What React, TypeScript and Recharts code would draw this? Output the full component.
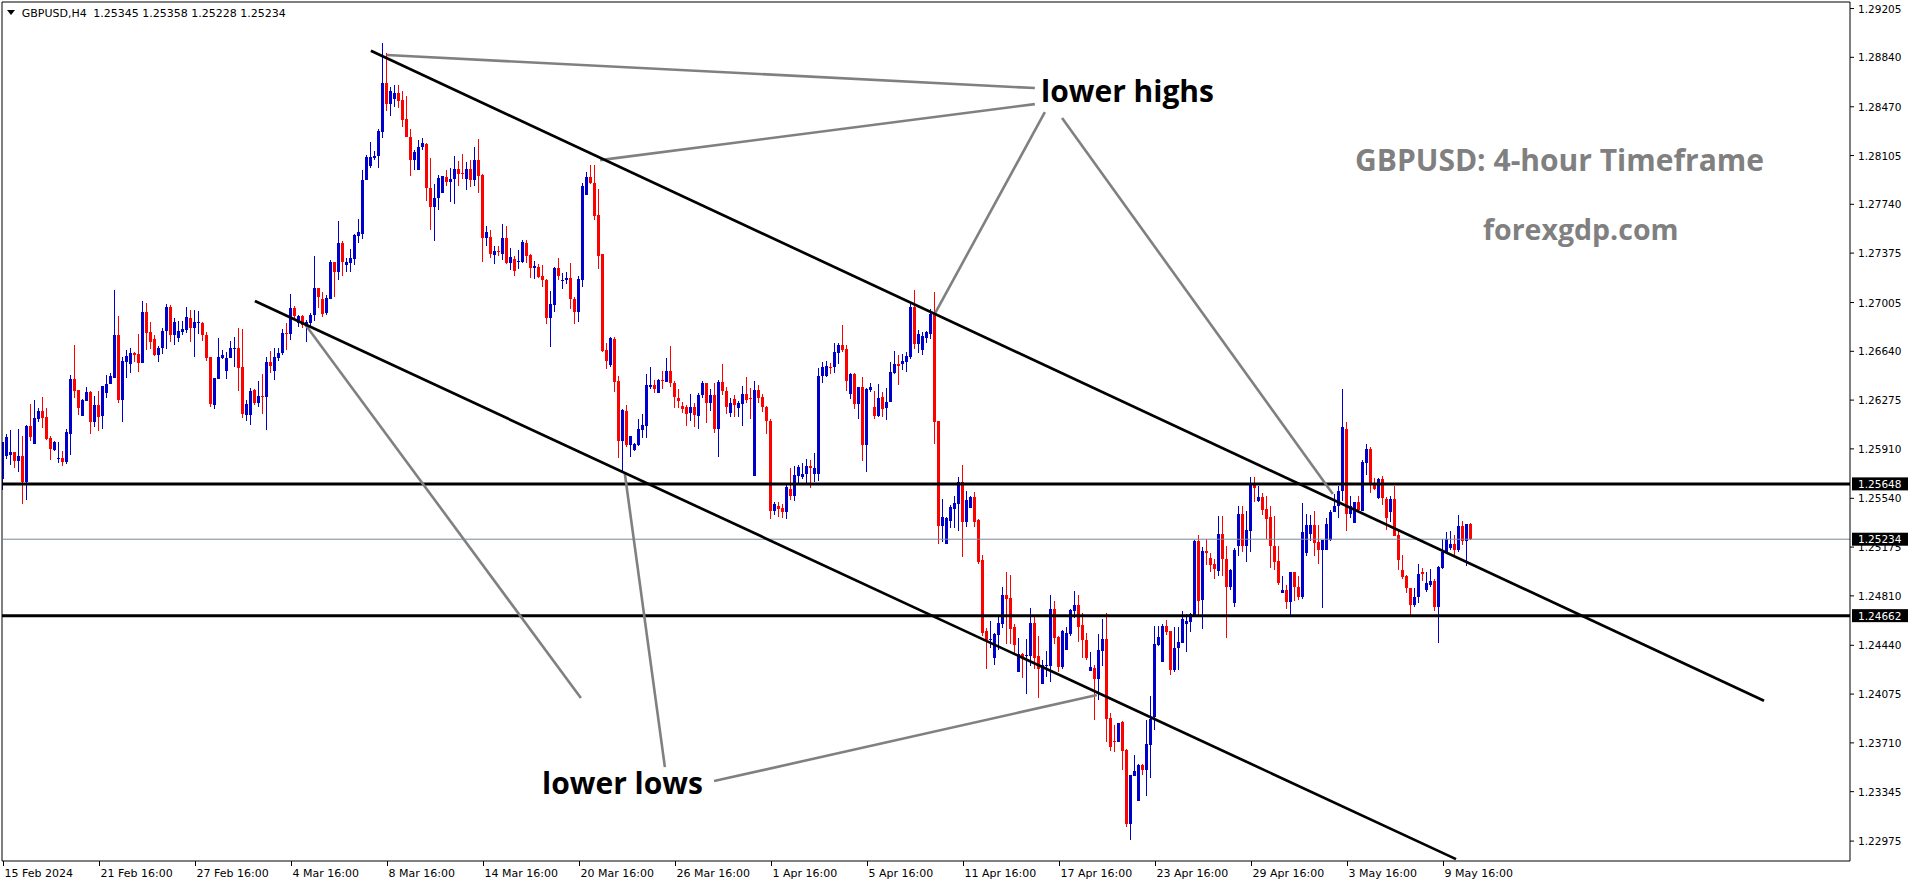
import React from 'react';
import { ComposedChart, Bar, XAxis, YAxis, ReferenceLine } from 'recharts';

// GBPUSD H4 candles, prices in points (1/100000)
const opens = [
  125688,125857,125862,125885,125817,125857,125662,126082,125947,126135,126192,126147,
  125990,125900,125835,125840,125810,126022,126432,126350,126157,126270,126335,126112,
  126237,126157,126325,126395,126442,126762,126277,126560,126547,126625,126620,126555,
  126935,126785,126730,126615,126665,126792,126972,126762,126742,126787,126802,126890,
  126817,126855,126852,126765,126597,126240,126435,126592,126495,126587,126660,126665,
  126522,126165,126160,126350,126250,126307,126300,126562,126495,126590,126625,126780,
  126770,126967,126850,126905,126825,126850,126912,127117,127030,126925,127030,127312,
  127237,127450,127287,127300,127332,127502,127520,127920,128025,128085,128100,128280,
  128647,128487,128525,128572,128520,128375,128245,128070,128000,128167,128195,127865,
  127717,127785,127822,127947,127905,127930,128007,127977,127927,128007,127920,128075,
  127957,127485,127497,127362,127392,127367,127490,127300,127330,127312,127312,127452,
  127360,127262,127270,127205,127175,126892,126987,127260,127170,127170,127187,127032,
  126935,127175,127807,127947,127900,127662,127365,126647,126537,126732,126420,125970,
  126192,125937,125900,125940,126050,126082,126370,126385,126330,126427,126407,126495,
  126400,126292,126230,126220,126175,126220,126155,126312,126405,126255,126312,126060,
  126407,126345,126175,126280,126218,126245,126320,126290,125707,126350,126300,126225,
  126120,125445,125480,125467,125435,125612,125555,125707,125700,125720,125785,125722,
  125722,126455,126455,126520,126520,126630,126687,126655,126322,126470,126245,126375,
  125937,126347,126222,126155,126297,126217,126260,126480,126545,126542,126562,126600,
  126975,126695,126650,126737,126770,126917,126120,125330,125200,125367,125462,125500,
  125665,125362,125467,125547,125375,125080,124550,124480,124347,124517,124600,124817,
  124795,124577,124242,124372,124360,124360,124605,124360,124152,124285,124285,124710,
  124505,124280,124405,124527,124700,124742,124592,124480,124247,124267,124187,124400,
  124487,123897,123727,123717,123865,123655,123100,123460,123272,123542,123505,123692,
  123905,124442,124317,124585,124545,124255,124417,124460,124600,124617,124662,125217,
  124780,125147,125090,125050,124997,125275,125085,124875,124755,125180,125425,125180,
  125292,125647,125522,125552,125460,125397,125185,125072,124835,124855,124767,124985,
  124875,124805,125130,125272,125342,125210,125155,125155,125230,125437,125480,125592,
  126060,125425,125355,125510,125442,125805,125912,125650,125542,125687,125537,125437,
  125537,125267,125005,124962,124867,124742,124805,124985,124855,124892,124925,124730,
  125017,125135,125167,125200,125155,125330,125217,125345,
];

const highs = [
  125962,126025,126050,125885,126057,126007,126087,126245,126275,126215,126297,126217,
  126005,125967,125965,125892,126062,126465,126687,126350,126285,126375,126345,126305,
  126342,126382,126460,126475,127100,126907,126600,126650,126667,126635,126770,127017,
  127002,126862,126762,126682,126817,126997,126987,126887,126867,126870,126972,126950,
  126947,126942,126862,126785,126597,126440,126740,126650,126637,126715,126747,126817,
  126807,126275,126362,126355,126420,126470,126600,126645,126662,126662,126805,126850,
  127067,126980,126912,126912,126875,126930,127355,127117,127082,127060,127320,127312,
  127617,127462,127342,127405,127520,127632,127995,128110,128205,128137,128305,128945,
  128870,128620,128630,128632,128587,128547,128307,128150,128225,128237,128200,128090,
  127895,127960,127950,128000,128012,128100,128067,128120,128057,128075,128172,128232,
  127970,127575,127550,127430,127425,127595,127580,127412,127350,127400,127475,127470,
  127365,127317,127295,127287,127180,127095,127270,127335,127225,127237,127300,127050,
  127200,127900,127982,128032,128035,127857,127370,126705,126750,126750,126455,126210,
  126237,126005,125955,126132,126170,126470,126522,126425,126435,126492,126587,126680,
  126420,126360,126262,126237,126317,126250,126325,126420,126405,126355,126400,126425,
  126547,126375,126287,126310,126267,126380,126445,126362,126417,126387,126320,126230,
  126132,125512,125512,125500,125637,125765,125780,125792,125805,125832,125825,125882,
  126512,126562,126570,126555,126705,126700,126837,126687,126475,126475,126375,126450,
  126362,126400,126342,126395,126337,126362,126562,126642,126612,126617,126635,127000,
  127100,126800,126787,126795,126955,127085,126120,125537,125400,125492,125555,125700,
  125787,125592,125555,125587,125387,125117,124567,124622,124530,124655,124880,124992,
  124965,124597,124492,124385,124485,124720,124670,124510,124330,124397,124817,124772,
  124510,124555,124580,124712,124850,124817,124680,124530,124387,124292,124522,124637,
  124680,123930,123842,123862,123875,123667,123467,123617,123555,123555,123880,124060,
  124585,124585,124597,124630,124547,124580,124580,124700,124675,124680,125230,125267,
  125175,125235,125130,125085,125410,125405,125180,125010,125167,125485,125485,125442,
  125697,125697,125630,125580,125555,125480,125405,125180,124960,124892,124985,124985,
  124955,125505,125422,125417,125442,125342,125230,125392,125455,125572,125630,126355,
  126110,125555,125510,125555,125825,125950,125922,125692,125692,125710,125550,125560,
  125635,125297,125117,124967,124867,124867,125050,125022,124992,125010,124937,125030,
  125235,125285,125292,125267,125417,125367,125350,125358,
];

const lows = [
  125605,125832,125787,125767,125737,125500,125525,125970,125947,126112,126067,125980,
  125825,125892,125807,125782,125797,125865,126292,126165,126157,126267,126022,126075,
  126045,126055,126287,126392,126442,126255,126112,126442,126480,126562,126487,126555,
  126650,126657,126607,126562,126622,126657,126712,126687,126712,126762,126777,126712,
  126600,126770,126717,126567,126227,126210,126432,126580,126432,126587,126522,126345,
  126142,126120,126087,126237,126225,126170,126050,126475,126425,126567,126612,126650,
  126725,126875,126825,126812,126712,126825,126867,126962,126900,126912,127030,127050,
  127170,127200,127230,127230,127287,127450,127482,127920,128012,128070,128012,128237,
  128437,128400,128465,128460,128317,128242,127950,128000,128000,128150,127762,127545,
  127462,127700,127822,127875,127755,127745,127880,127930,127845,127870,127875,127825,
  127305,127425,127342,127295,127350,127325,127295,127250,127200,127257,127300,127300,
  127187,127180,127187,127125,126842,126675,126937,127175,127105,127142,126960,126842,
  126862,127125,127807,127895,127620,127255,126637,126505,126525,126337,125845,125737,
  125925,125850,125895,125935,125995,125995,126357,126325,126330,126357,126407,126375,
  126217,126217,126175,126080,126120,126070,126055,126287,126105,126192,126030,125850,
  126312,126170,126150,126150,126150,126080,126255,126132,125707,126255,126187,126020,
  125382,125412,125400,125395,125385,125525,125520,125650,125687,125655,125617,125662,
  125670,126400,126445,126467,126475,126545,126637,126345,126280,126205,126132,125817,
  125737,126337,126137,126150,126150,126125,126260,126467,126387,126500,126487,126580,
  126655,126625,126612,126705,126730,125950,125195,125212,125195,125317,125317,125292,
  125100,125325,125467,125325,125050,124510,124260,124422,124292,124405,124572,124450,
  124450,124372,124237,124197,124075,124287,124262,124047,124152,124205,124165,124450,
  124237,124260,124405,124510,124642,124467,124342,124330,124247,123880,124030,124285,
  123717,123650,123642,123717,123505,123080,122980,123460,123272,123467,123310,123447,
  123805,124437,124312,124517,124217,124242,124255,124455,124392,124542,124660,124655,
  124562,125042,124992,124937,124960,124960,124492,124855,124730,125105,125142,125067,
  125142,125510,125510,125417,125237,125022,125005,124892,124830,124712,124667,124775,
  124780,124785,125105,125217,125112,125050,124717,125155,125217,125437,125392,125517,
  125292,125392,125355,125430,125442,125717,125580,125605,125535,125487,125305,125360,
  125255,125005,124935,124835,124667,124730,124755,124925,124842,124875,124700,124455,
  125010,125130,125155,125117,125142,125192,125030,125228,
];

const closes = [
  125962,126000,125885,125817,125857,125662,126082,126000,126140,126195,126140,125985,
  125910,125962,125840,125812,126035,126432,126345,126217,126275,126335,126112,126237,
  126150,126380,126395,126455,126762,126277,126567,126605,126630,126610,126555,126935,
  126780,126712,126615,126665,126792,126972,126762,126862,126792,126807,126897,126817,
  126860,126860,126765,126592,126245,126440,126597,126612,126592,126665,126665,126517,
  126172,126245,126345,126250,126307,126300,126562,126530,126600,126630,126780,126770,
  126967,126905,126905,126837,126857,126912,127117,127050,126917,127042,127312,127237,
  127450,127312,127305,127337,127507,127530,127925,128092,128097,128105,128287,128647,
  128487,128587,128572,128512,128370,128245,128070,128135,128172,128200,127860,127717,
  127787,127940,127950,127905,127932,128007,127970,127972,128007,127920,128075,127950,
  127485,127535,127367,127392,127385,127490,127300,127347,127240,127317,127460,127355,
  127260,127282,127195,127177,126892,126995,127260,127207,127175,127190,127032,126935,
  127182,127875,127947,127900,127650,127350,126642,126570,126737,126412,125970,126200,
  125937,126005,125945,126057,126087,126387,126387,126355,126427,126415,126495,126400,
  126295,126270,126210,126170,126220,126167,126312,126405,126255,126312,126060,126407,
  126345,126225,126255,126235,126257,126320,126275,126282,126350,126292,126220,126120,
  125445,125500,125460,125435,125622,125555,125712,125775,125725,125785,125767,125770,
  126455,126525,126530,126517,126635,126687,126650,126417,126470,126245,126375,125937,
  126355,126372,126155,126290,126205,126260,126485,126545,126532,126570,126605,126975,
  126695,126770,126757,126782,126917,126112,125330,125400,125390,125475,125505,125665,
  125362,125525,125547,125362,125062,124535,124480,124485,124525,124605,124817,124787,
  124562,124442,124372,124355,124367,124605,124347,124260,124292,124290,124712,124492,
  124280,124547,124532,124705,124742,124580,124480,124347,124277,124187,124405,124487,
  123887,123680,123717,123857,123650,123100,123467,123497,123545,123510,123700,123887,
  124450,124500,124585,124542,124255,124417,124465,124637,124625,124675,125217,124775,
  125147,125130,125042,125010,125275,125085,124875,125005,125155,125425,125180,125305,
  125647,125617,125552,125455,125387,125180,125067,124905,124855,124767,124985,124875,
  124805,125287,125342,125342,125205,125155,125230,125350,125440,125480,125592,126072,
  125425,125480,125510,125455,125815,125912,125650,125612,125687,125542,125392,125537,
  125255,125075,124950,124867,124742,124805,124975,124972,124905,124925,124730,125025,
  125142,125237,125200,125155,125330,125217,125350,125234,
];

const dateTicks = [0, 24, 48, 72, 96, 120, 144, 168, 192, 216, 240, 264, 288, 312, 336, 360];
const dateLabels = [
  '15 Feb 2024', '21 Feb 16:00', '27 Feb 16:00', '4 Mar 16:00', '8 Mar 16:00', '14 Mar 16:00',
  '20 Mar 16:00', '26 Mar 16:00', '1 Apr 16:00', '5 Apr 16:00', '11 Apr 16:00', '17 Apr 16:00',
  '23 Apr 16:00', '29 Apr 16:00', '3 May 16:00', '9 May 16:00',
];
const priceTicks = [
  1.29205, 1.2884, 1.2847, 1.28105, 1.2774, 1.27375, 1.27005, 1.2664, 1.26275, 1.2591,
  1.2554, 1.25175, 1.2481, 1.2444, 1.24075, 1.2371, 1.23345, 1.22975,
];

const levels = [1.25648, 1.24662];
const bidPrice = 1.25234;

// [bar, price] end points
const channelLines = [
  [[91.9, 1.28889], [440.2, 1.24025]],
  [[62.9, 1.27016], [363.2, 1.2284]],
];
const pointerLines = [
  [[95.85, 1.28857], [257.9, 1.2861]],
  [[149.2, 1.28071], [257.9, 1.2849]],
  [[232.7, 1.26911], [260.4, 1.2843]],
  [[264.7, 1.28386], [332.4, 1.25572]],
  [[75.4, 1.26845], [144.4, 1.24045]],
  [[155.4, 1.25722], [165.4, 1.23529]],
  [[177.7, 1.23424], [273.4, 1.24068]],
];

const candles = opens.map((o, i) => {
  const open = o / 1e5;
  const close = closes[i] / 1e5;
  const high = Math.max(highs[i] / 1e5, open, close);
  const low = Math.min(lows[i] / 1e5, open, close);
  return { i, open, high, low, close, range: [low, high] };
});

const axisFont = 'Tahoma, "DejaVu Sans", sans-serif';
const noteFont = '"Open Sans", "Noto Sans", sans-serif';

function Candle(props: any) {
  const { x, width, payload } = props;
  let { y, height } = props;
  if (height < 0) {
    y += height;
    height = -height;
  }
  const { open, close, high, low } = payload;
  const span = high - low;
  const toY = (v: number) => (span > 0 ? y + ((high - v) / span) * height : y);
  const cx = Math.floor(x + width / 2);
  const color = close >= open ? '#0000cd' : '#ff0000';
  const top = toY(Math.max(open, close));
  const bot = toY(Math.min(open, close));
  return (
    <g shapeRendering="crispEdges">
      <rect x={cx} y={y} width={1} height={Math.max(height, 1)} fill={color} />
      <rect x={cx - 1} y={top} width={3} height={Math.max(bot - top, 1)} fill={color} />
    </g>
  );
}

function DateTick({ x, y, payload }: any) {
  const k = dateTicks.indexOf(payload.value);
  const px = Math.floor(x) + 0.5;
  return (
    <g>
      <line x1={px} x2={px} y1={y} y2={y + 5} stroke="#000" />
      <text x={px + 1} y={y + 16} fontSize={11} fontFamily={axisFont} fill="#000">
        {dateLabels[k]}
      </text>
    </g>
  );
}

function PriceTick({ x, y, payload }: any) {
  return (
    <g>
      <line x1={x} x2={x + 4} y1={y} y2={y} stroke="#000" />
      <text x={x + 8} y={y + 4} fontSize={10.5} fontFamily={axisFont} fill="#000">
        {payload.value.toFixed(5)}
      </text>
    </g>
  );
}

const priceTag = (text: string) => (props: any) => {
  const vb = props.viewBox;
  const x = vb.x + vb.width + 2;
  const y = vb.y;
  return (
    <g>
      <rect x={x} y={y - 6.5} width={56} height={13} fill="#000" />
      <text x={x + 6} y={y + 4} fontSize={10.5} fontFamily={axisFont} fill="#fff">
        {text}
      </text>
    </g>
  );
};

export default function App() {
  return (
    <div style={{ position: 'absolute', left: 0, top: 0, width: 1914, height: 884, background: '#fff' }}>
      <ComposedChart
        width={1914}
        height={884}
        data={candles}
        margin={{ top: 2, right: 0, bottom: 0, left: 2 }}
      >
        <XAxis
          dataKey="i"
          type="number"
          domain={[-0.33, 461.7]}
          ticks={dateTicks}
          interval={0}
          allowDataOverflow
          height={23}
          tickSize={0}
          tickMargin={0}
          tick={<DateTick />}
          axisLine={{ stroke: '#000' }}
        />
        <YAxis
          orientation="right"
          type="number"
          domain={[1.22826, 1.29254]}
          ticks={priceTicks}
          interval={0}
          allowDataOverflow
          width={64}
          tickSize={0}
          tickMargin={0}
          tick={<PriceTick />}
          axisLine={{ stroke: '#000' }}
        />
        <ReferenceLine y={1.29254} stroke="#000" ifOverflow="visible" />
        <ReferenceLine x={-0.33} stroke="#000" ifOverflow="visible" />
        <ReferenceLine y={bidPrice} stroke="#778899" strokeWidth={1} label={priceTag(bidPrice.toFixed(5))} />
        <Bar dataKey="range" barSize={3} isAnimationActive={false} shape={(p: any) => <Candle {...p} />} />
        {levels.map((lv) => (
          <ReferenceLine key={lv} y={lv} stroke="#000" strokeWidth={3} label={priceTag(lv.toFixed(5))} />
        ))}
        {pointerLines.map((s, k) => (
          <ReferenceLine
            key={'p' + k}
            segment={[{ x: s[0][0], y: s[0][1] }, { x: s[1][0], y: s[1][1] }]}
            stroke="#808080"
            strokeWidth={2.6}
            ifOverflow="hidden"
          />
        ))}
        {channelLines.map((s, k) => (
          <ReferenceLine
            key={'c' + k}
            segment={[{ x: s[0][0], y: s[0][1] }, { x: s[1][0], y: s[1][1] }]}
            stroke="#000"
            strokeWidth={2.7}
            ifOverflow="hidden"
          />
        ))}
      </ComposedChart>
      <svg width={1914} height={884} style={{ position: 'absolute', left: 0, top: 0, pointerEvents: 'none' }}>
        <polygon points="7,10 15,10 11,15" fill="#000" />
        <text x={21.7} y={16.5} fontSize={11} fontFamily={axisFont} fill="#000">GBPUSD,H4</text>
        <text x={93.3} y={16.5} fontSize={11} fontFamily={axisFont} fill="#000">1.25345 1.25358 1.25228 1.25234</text>
        <text x={1041} y={102} fontSize={30} fontWeight={700} fontFamily={noteFont} fill="#000">lower highs</text>
        <text x={542} y={794} fontSize={30} fontWeight={700} fontFamily={noteFont} fill="#000">lower lows</text>
        <text x={1355} y={171} fontSize={30} fontWeight={700} fontFamily={noteFont} fill="#808080">GBPUSD: 4-hour Timeframe</text>
        <text x={1483} y={240} fontSize={28.5} fontWeight={700} fontFamily={noteFont} fill="#808080">forexgdp.com</text>
      </svg>
    </div>
  );
}
